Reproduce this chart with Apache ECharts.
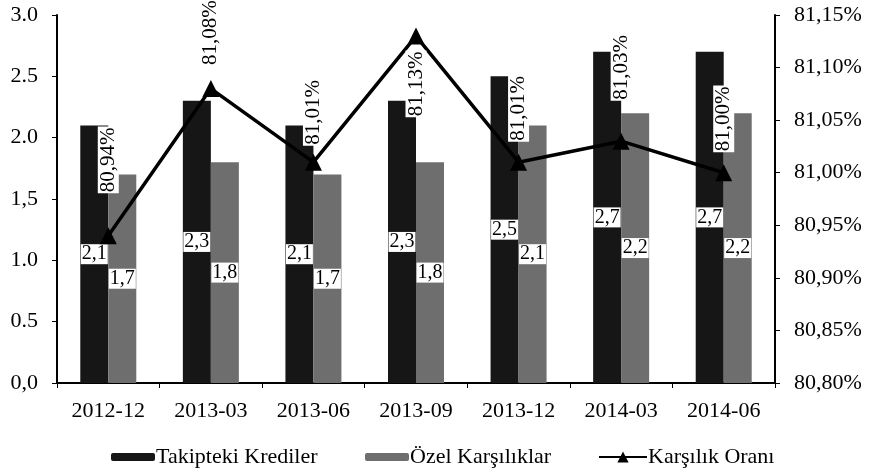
<!DOCTYPE html>
<html><head><meta charset="utf-8">
<script src="https://cdn.jsdelivr.net/npm/echarts@6/dist/echarts.min.js"></script>
<style>html,body{margin:0;padding:0;background:#fff}#c{width:869px;height:473px}</style>
</head><body><div id="c"></div>
<script>
const categories = ['2012-12','2013-03','2013-06','2013-09','2013-12','2014-03','2014-06'];
const takipteki = [2.1, 2.3, 2.1, 2.3, 2.5, 2.7, 2.7];
const ozel = [1.7, 1.8, 1.7, 1.8, 2.1, 2.2, 2.2];
const oran = [80.94, 81.08, 81.01, 81.13, 81.01, 81.03, 81.00];
const leftTicks = ['0,0','0.5','1.0','1,5','2.0','2.5','3.0'];
const rightTicks = ['80,80%','80,85%','80,90%','80,95%','81,00%','81,05%','81,10%','81,15%'];

// label placement (style, not data)
const labelPos = ['top','top','top','bottom','top','top','top'];
const labelDist = [34, 14, 8, 6, 12, 32, 12];

const F = 'Liberation Serif';
const chart = echarts.init(document.getElementById('c'));
const fmt = v => v.toFixed(1).replace('.', ',');
const lineData = oran.map((v, i) => ({
  value: v,
  label: {
    position: labelPos[i], distance: labelDist[i],
    align: labelPos[i] === 'top' ? 'left' : 'right', verticalAlign: 'middle'
  }
}));
const legendBase = {
  top: 441, itemGap: 0, itemWidth: 44, itemHeight: 8,
  textStyle: {fontFamily: F, fontSize: 22, color: '#000', padding: [0, 0, 0, -4]}
};
chart.setOption({
  animation: false,
  textStyle: {fontFamily: F, color: '#000'},
  grid: {left: 57, right: 94, top: 15, bottom: 90},
  legend: [
    Object.assign({}, legendBase, {left: 106, data: ['Takipteki Krediler']}),
    Object.assign({}, legendBase, {left: 360, data: ['Özel Karşılıklar']}),
    Object.assign({}, legendBase, {left: 593, itemWidth: 48, itemHeight: 14, data: ['Karşılık Oranı']})
  ],
  xAxis: {
    type: 'category', data: categories,
    axisLine: {lineStyle: {color: '#000', width: 2}},
    axisTick: {show: true, length: 5, lineStyle: {color: '#000'}},
    axisLabel: {fontSize: 22, color: '#000', fontFamily: F, margin: 17}
  },
  yAxis: [
    {type: 'value', min: 0, max: 3, interval: 0.5, splitLine: {show: false},
     axisLine: {show: true, lineStyle: {color: '#000', width: 2}},
     axisTick: {show: true, length: 5, lineStyle: {color: '#000'}},
     axisLabel: {fontSize: 22, color: '#000', fontFamily: F, margin: 19,
       formatter: v => leftTicks[Math.round(v / 0.5)]}},
    {type: 'value', min: 80.80, max: 81.15, interval: 0.05, position: 'right', splitLine: {show: false},
     axisLine: {show: true, lineStyle: {color: '#000', width: 2}},
     axisTick: {show: true, length: 5, lineStyle: {color: '#000'}},
     axisLabel: {fontSize: 22, color: '#000', fontFamily: F, margin: 19,
       formatter: v => rightTicks[Math.round((v - 80.80) / 0.05)]}}
  ],
  series: [
    {name: 'Takipteki Krediler', type: 'bar', data: takipteki, barWidth: 28, barGap: '0%',
     itemStyle: {color: '#161616'},
     label: {show: true, position: 'inside', formatter: p => fmt(p.value), fontSize: 20,
       color: '#000', fontFamily: F, backgroundColor: '#fff', padding: [0, 1]}},
    {name: 'Özel Karşılıklar', type: 'bar', data: ozel, barWidth: 28,
     itemStyle: {color: '#6e6e6e'},
     label: {show: true, position: 'inside', formatter: p => fmt(p.value), fontSize: 20,
       color: '#000', fontFamily: F, backgroundColor: '#fff', padding: [0, 1]}},
    {name: 'Karşılık Oranı', type: 'line', yAxisIndex: 1, z: 5,
     data: lineData,
     lineStyle: {color: '#000', width: 3.5}, itemStyle: {color: '#000'},
     symbol: 'triangle', symbolSize: 17,
     label: {show: true, rotate: 90, fontSize: 21, color: '#000', fontFamily: F,
       backgroundColor: '#fff', padding: [0, 1],
       formatter: p => p.value.toFixed(2).replace('.', ',') + '%'}}
  ]
});
</script></body></html>
